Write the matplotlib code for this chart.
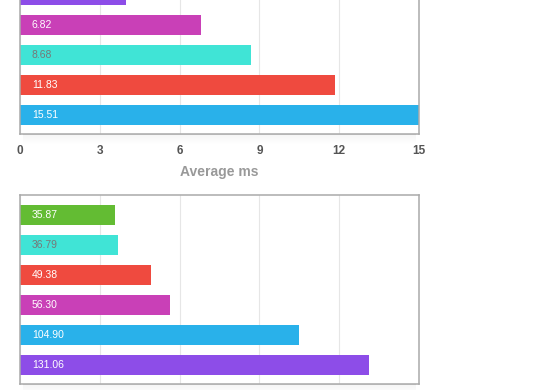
import matplotlib
matplotlib.use("Agg")
import matplotlib.pyplot as plt
from matplotlib.patches import Rectangle

plt.rcParams['font.family'] = ['Liberation Sans', 'DejaVu Sans']

# top panel (bottom-to-top order), the top of this panel is cut off in the source
top_values = [15.51, 11.83, 8.68, 6.82, 4.0]
top_labels = ['15.51', '11.83', '8.68', '6.82', '']
top_colors = ['#29b1ea', '#ef4a3f', '#40e4d6', '#c940b7', '#8d4de8']

# bottom panel (bottom-to-top order)
bot_values = [131.06, 104.90, 56.30, 49.38, 36.79, 35.87]
bot_labels = ['131.06', '104.90', '56.30', '49.38', '36.79', '35.87']
bot_colors = ['#8d4de8', '#29b1ea', '#c940b7', '#ef4a3f', '#40e4d6', '#63bc33']

top_ticks = [0, 3, 6, 9, 12, 15]
bot_ticks = [0, 30, 60, 90, 120, 150]

W, H = 560, 390
fig = plt.figure(figsize=(5.6, 3.9), dpi=100)


def px_axes(left, top, right, bottom):
    return fig.add_axes([left / W, 1 - bottom / H, (right - left) / W, (bottom - top) / H])


def shadow(left, right, bottom):
    # soft grey shade under the plot box
    for i in range(10):
        fig.patches.append(Rectangle(((left + 3) / W, 1 - (bottom + i + 1) / H),
                                     (right - left - 6) / W, 1 / H,
                                     transform=fig.transFigure, facecolor='#000000',
                                     alpha=0.04 * (1 - i / 10), edgecolor='none', zorder=0))


def style(ax, xmax, ticks):
    ax.set_xlim(0, xmax)
    ax.set_xticks(ticks)
    ax.set_yticks([])
    ax.grid(axis='x', color='#e6e6e6', linewidth=0.8)
    ax.set_axisbelow(True)
    for s in ax.spines.values():
        s.set_color('#aaaaaa')
        s.set_linewidth(1.1)
    ax.tick_params(axis='x', length=0, pad=8, labelsize=8.5, labelcolor='#555555')
    for t in ax.get_xticklabels():
        t.set_fontweight('bold')


def bars(ax, values, labels, colors, xmax):
    y = range(len(values))
    ax.barh(list(y), values, height=2 / 3, color=colors, zorder=2)
    for yi, lab, c in zip(y, labels, colors):
        tc = '#777777' if c == '#40e4d6' else 'white'
        ax.text(xmax * 0.03, yi, lab, color=tc, fontsize=7.5, va='center', ha='left', zorder=3)


ax1 = px_axes(20, -25, 419, 134)
bars(ax1, top_values, top_labels, top_colors, 15)
ax1.set_ylim(-0.633, 4.657)
style(ax1, 15, top_ticks)
ax1.set_xlabel('Average ms', fontsize=10, fontweight='bold', color='#999999', labelpad=6)
shadow(20, 419, 134)

ax2 = px_axes(20, 195, 419, 384)
bars(ax2, bot_values, bot_labels, bot_colors, 150)
ax2.set_ylim(-0.633, 5.667)
style(ax2, 150, bot_ticks)
ax2.tick_params(axis='x', labelbottom=False)
shadow(20, 419, 384)

fig.savefig('out.png', dpi=100)
